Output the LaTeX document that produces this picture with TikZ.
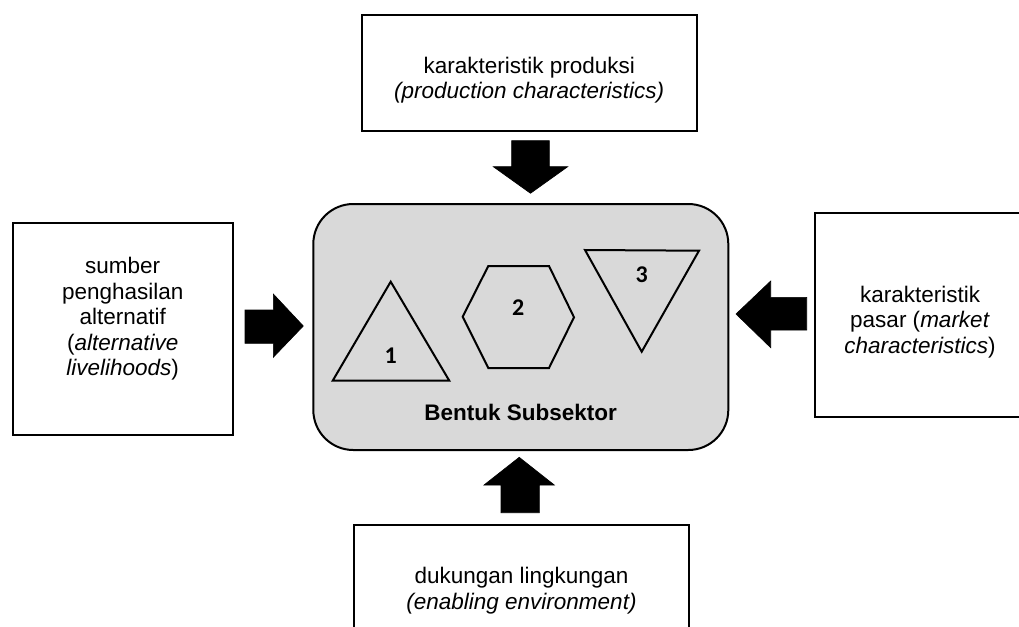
\documentclass[tikz,border=0pt]{standalone}
\usepackage{fontspec}
\setmainfont{Liberation Sans}
\newfontfamily\digitfont{Carlito}
\begin{document}
\begin{tikzpicture}[x=1pt,y=-1pt,
  box/.style={draw=black, line width=2.2pt, fill=white, rectangle, inner sep=0pt},
  core/.style={draw=black, line width=2pt, fill=corefill, rectangle, rounded corners=40pt, inner sep=0pt},
  lbl/.style={align=center, font=\fontsize{22.5}{25.5}\selectfont, inner sep=0pt},
  title/.style={font=\bfseries\fontsize{22.5}{25.5}\selectfont, inner sep=0pt},
  blockarrow/.style={fill=black, draw=black, line width=0.6pt, line join=miter},
  shp/.style={draw=black, line width=2pt, line join=miter},
  num/.style={font=\digitfont\bfseries\fontsize{24}{24}\selectfont, inner sep=0pt}]
\definecolor{corefill}{RGB}{217,217,217}
\useasboundingbox (0,0) rectangle (1019,626);
\clip (0,0) rectangle (1019,626);

% boxes
\node[box, minimum width=335pt, minimum height=116pt] (top) at (529.2,73) {};
\node[box, minimum width=220pt, minimum height=212.6pt] (left) at (122.7,329) {};
\node[box, minimum width=215pt, minimum height=204pt] (right) at (922.5,315) {};
\node[box, minimum width=335pt, minimum height=115pt] (bottom) at (521.5,582.5) {};
\node[core, minimum width=415pt, minimum height=246pt] (core) at (520.8,327) {};

% texts
\node[lbl] (topText) at (529.2,80) {karakteristik produksi\\\textit{(production characteristics)}};
\node[lbl] (leftText) at (122.7,319) {sumber\\penghasilan\\alternatif\\(\textit{alternative}\\\textit{livelihoods})};
\node[lbl] (rightText) at (920,321.7) {karakteristik\\pasar (\textit{market}\\\textit{characteristics})};
\node[lbl] (bottomText) at (521.5,590.8) {dukungan lingkungan\\\textit{(enabling environment)}};
\node[title] (coreTitle) at (520.7,412.7) {Bentuk Subsektor};

% block arrows
\fill[blockarrow] (511.7,140.7) -- (549.3,140.7) -- (549.3,166.7) -- (567.7,166.7) -- (530.5,193.3) -- (493.3,166.7) -- (511.7,166.7) -- cycle;
\fill[blockarrow] (245,310) -- (273.3,310) -- (273.3,294) -- (303.3,326) -- (273.3,357.3) -- (273.3,343.3) -- (245,343.3) -- cycle;
\fill[blockarrow] (806.7,297.3) -- (770.7,297.3) -- (770.7,281) -- (736,314) -- (770.7,347.7) -- (770.7,330) -- (806.7,330) -- cycle;
\fill[blockarrow] (501,512.7) -- (501,485) -- (484,485) -- (519.2,457.3) -- (554.3,485) -- (539.3,485) -- (539.3,512.7) -- cycle;

% shapes
\draw[shp] (390.7,281.7) -- (449.3,380.7) -- (332.7,380.7) -- cycle;
\draw[shp] (462.7,316.7) -- (488.3,266) -- (549,266) -- (574,317.3) -- (549,368) -- (488.3,368) -- cycle;
\draw[shp] (585,250) -- (699,250.7) -- (641.7,351.7) -- cycle;

\node[num] (n1) at (390.7,356) {1};
\node[num] (n2) at (518.3,307.5) {2};
\node[num] (n3) at (641.7,275) {3};
\end{tikzpicture}
\end{document}
